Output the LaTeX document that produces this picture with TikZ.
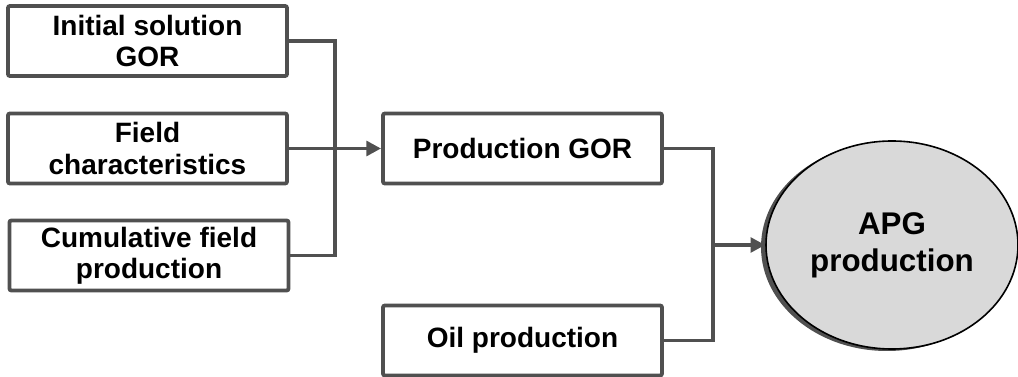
\documentclass[tikz,border=0pt]{standalone}
\usepackage{fontspec}
\setmainfont{Liberation Sans}
\usetikzlibrary{shapes.geometric,arrows.meta}
\definecolor{linegray}{HTML}{505050}
\definecolor{ellfill}{HTML}{D9D9D9}
\begin{document}
\begin{tikzpicture}[x=0.75pt,y=-0.75pt,
  box/.style={draw=linegray,line width=2.9pt,rounded corners=1.5pt,fill=white,
    minimum width={279*0.75pt},minimum height={70*0.75pt},inner sep=0pt,
    align=center,font=\bfseries\fontsize{21}{23.5}\selectfont},
  conn/.style={draw=linegray,line width=2.9pt},
  arr/.style={conn,-{Triangle[length=11pt,width=11pt]}},
  ell/.style={ellipse,minimum width={252*0.75pt},minimum height={208*0.75pt},inner sep=0pt}]
\useasboundingbox (0,0) rectangle (1018,377);
\node[box] (b1) at (147.5,41) {Initial solution\\GOR};
\node[box] (b2) at (147.5,148.5) {Field\\characteristics};
\node[box] (b3) at (149,255.5) {Cumulative field\\production};
\node[box] (pg) at (522.5,148.5) {Production GOR};
\node[box] (op) at (522.5,340.5) {Oil production};
\node[ell,fill=linegray] (sh) at (887,247) {};
\node[ell,draw=black,line width=1.2pt,fill=ellfill,align=center,
  font=\bfseries\fontsize{23.5}{28}\selectfont] (apg) at (892,245) {APG\\production};
\coordinate (j1) at (335,0);
\coordinate (j2) at (713,0);
\draw[conn] (b1.east) -- (b1.east -| j1) -- (b3.east -| j1) -- (b3.east);
\draw[arr] (b2.east) -- (pg.west);
\draw[conn] (pg.east) -- (pg.east -| j2) -- (op.east -| j2) -- (op.east);
\draw[arr] (apg.west -| j2) -- (apg.west);
\end{tikzpicture}
\end{document}
